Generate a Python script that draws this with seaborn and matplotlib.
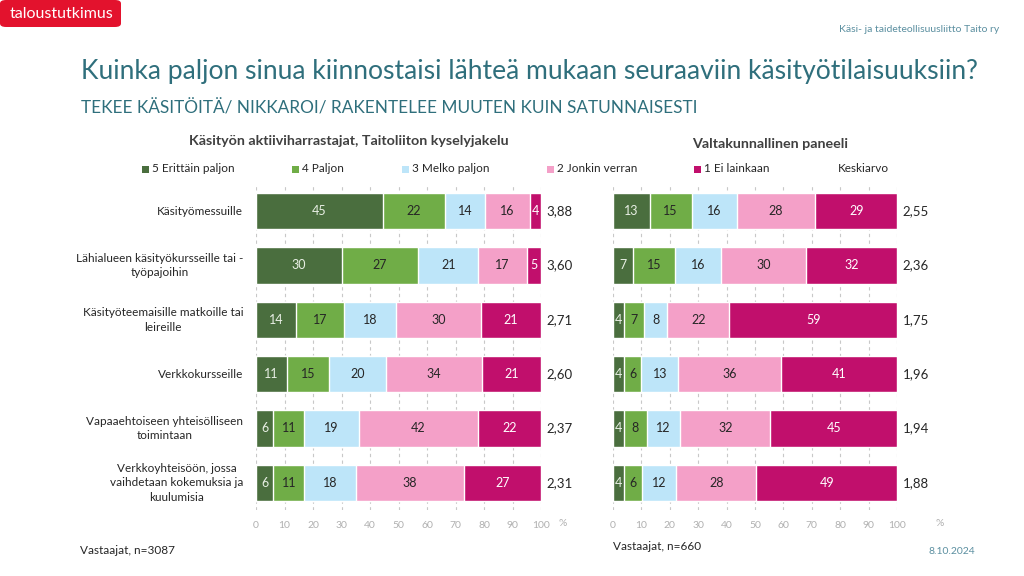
import pandas as pd
import matplotlib.pyplot as plt
import matplotlib.patches as mpatches
import seaborn as sns

# Aineisto luettu kuvasta
kategoriat = [
    "Käsityömessuille",
    "Lähialueen käsityökursseille tai -\ntyöpajoihin",
    "Käsityöteemaisille matkoille tai\nleireille",
    "Verkkokursseille",
    "Vapaaehtoiseen yhteisölliseen\ntoimintaan",
    "Verkkoyhteisöön, jossa\nvaihdetaan kokemuksia ja\nkuulumisia",
]
tasot = ["5 Erittäin paljon", "4 Paljon", "3 Melko paljon", "2 Jonkin verran", "1 Ei lainkaan"]

# Käsityön aktiiviharrastajat (tasot 5..1)
taito_5 = [45, 30, 14, 11, 6, 6]
taito_4 = [22, 27, 17, 15, 11, 11]
taito_3 = [14, 21, 18, 20, 19, 18]
taito_2 = [16, 17, 30, 34, 42, 38]
taito_1 = [4, 5, 21, 21, 22, 27]
taito_ka = ["3,88", "3,60", "2,71", "2,60", "2,37", "2,31"]

# Valtakunnallinen paneeli
paneeli_5 = [13, 7, 4, 4, 4, 4]
paneeli_4 = [15, 15, 7, 6, 8, 6]
paneeli_3 = [16, 16, 8, 13, 12, 12]
paneeli_2 = [28, 30, 22, 36, 32, 28]
paneeli_1 = [29, 32, 59, 41, 45, 49]
paneeli_ka = ["2,55", "2,36", "1,75", "1,96", "1,94", "1,88"]

varit = ["#4a6e3e", "#70ad47", "#bde5f9", "#f4a0c8", "#c10f6c"]
tekstivarit = ["#e8efe4", "#262626", "#262626", "#262626", "#ffffff"]
teal = "#2f6f7c"

sns.set_theme(style="white")
plt.rcParams["font.family"] = ["Lato", "DejaVu Sans"]

fig = plt.figure(figsize=(10.24, 5.76), dpi=100)
W, H = 1024, 576


def px(x, y):
    return x / W, 1 - y / H


def piirra(ax, sarjat, keskiarvot, nayta_kategoriat, prosentti_x):
    df = pd.DataFrame({t: s for t, s in zip(tasot, sarjat)})
    df.index = kategoriat
    osuus = df.div(df.sum(axis=1), axis=0) * 100
    kum = osuus.cumsum(axis=1)
    # piirretään kumulatiiviset pylväät oikealta vasemmalle päällekkäin
    for i in range(len(tasot) - 1, -1, -1):
        sns.barplot(x=kum.iloc[:, i].values, y=kategoriat, orient="h",
                    color=varit[i], saturation=1, width=0.67, ax=ax, zorder=2)
    for r in range(len(kategoriat)):
        alku = 0
        for i, t in enumerate(tasot):
            w = osuus.iloc[r, i]
            ax.text(alku + w / 2, r, str(df.iloc[r, i]), ha="center", va="center",
                    fontsize=9, color=tekstivarit[i], zorder=3)
            alku += w
        ax.text(102, r, keskiarvot[r], ha="left", va="center", fontsize=9.5,
                color="#262626", clip_on=False)
        if nayta_kategoriat:
            ax.text(-4.5, r, kategoriat[r], ha="right", va="center",
                    multialignment="center", fontsize=8.5, color="#262626",
                    linespacing=1.4)
    ax.set_xlim(0, 100)
    ax.set_ylim(5.5, -0.5)
    ax.set_xticks(range(0, 101, 10))
    ax.set_xticklabels([str(v) for v in range(0, 101, 10)], fontsize=7.5, color="#b0b0b0")
    ax.tick_params(axis="x", length=0, pad=8)
    ax.set_yticks([])
    ax.set_xlabel("")
    ax.set_ylabel("")
    for v in range(0, 101, 10):
        ax.axvline(v, color="#c8c8c8", lw=0.8, ls=(0, (3, 3)), zorder=1)
    sns.despine(ax=ax, left=True, bottom=True)
    ax.text(prosentti_x, -0.042, "%", transform=ax.get_xaxis_transform(), fontsize=7.5,
            color="#b0b0b0", ha="center", va="center")


ax1 = fig.add_axes([256 / W, 1 - 510 / H, 285 / W, 326 / H])
ax2 = fig.add_axes([613 / W, 1 - 510 / H, 284 / W, 326 / H])
piirra(ax1, [taito_5, taito_4, taito_3, taito_2, taito_1], taito_ka, True, 107.5)
piirra(ax2, [paneeli_5, paneeli_4, paneeli_3, paneeli_2, paneeli_1], paneeli_ka, False, 115)

# logo
fig.patches.append(mpatches.FancyBboxPatch(px(0, 27), 121 / W, 27 / H,
                   boxstyle="round,pad=0,rounding_size=0.006", transform=fig.transFigure,
                   facecolor="#e3122d", edgecolor="none", figure=fig))
fig.text(*px(10, 13.5), "taloustutkimus", color="white", fontsize=11.5, va="center", ha="left")
fig.text(*px(999, 29), "Käsi- ja taideteollisuusliitto Taito ry", color="#5b8fa0",
         fontsize=7.5, ha="right", va="center")

fig.text(*px(81, 72), "Kuinka paljon sinua kiinnostaisi lähteä mukaan seuraaviin käsityötilaisuuksiin?",
         color=teal, fontsize=19.1, ha="left", va="center")
fig.text(*px(81, 108), "TEKEE KÄSITÖITÄ/ NIKKAROI/ RAKENTELEE MUUTEN KUIN SATUNNAISESTI",
         color=teal, fontsize=12.4, ha="left", va="center")

fig.text(*px(349, 141), "Käsityön aktiiviharrastajat, Taitoliiton kyselyjakelu",
         fontsize=10.3, fontweight="bold", color="#404040", ha="center", va="center")
fig.text(*px(770, 144), "Valtakunnallinen paneeli",
         fontsize=10.3, fontweight="bold", color="#404040", ha="center", va="center")

# selite
selite_x = [142, 292, 402, 547, 694]
for x, vari, teksti in zip(selite_x, varit, tasot):
    fig.patches.append(mpatches.Rectangle(px(x, 173), 7 / W, 7 / H, transform=fig.transFigure,
                                          facecolor=vari, edgecolor="none", figure=fig))
    fig.text(*px(x + 10, 169), teksti, fontsize=8.5, color="#262626", ha="left", va="center")
fig.text(*px(838, 169), "Keskiarvo", fontsize=8.5, color="#262626", ha="left", va="center")

fig.text(*px(80, 551), "Vastaajat, n=3087", fontsize=8.5, color="#262626", ha="left", va="center")
fig.text(*px(613, 547), "Vastaajat, n=660", fontsize=8.5, color="#262626", ha="left", va="center")
fig.text(*px(975, 552), "8.10.2024", fontsize=7.5, color="#5b8fa0", ha="right", va="center")

fig.savefig("out.png", dpi=100)
